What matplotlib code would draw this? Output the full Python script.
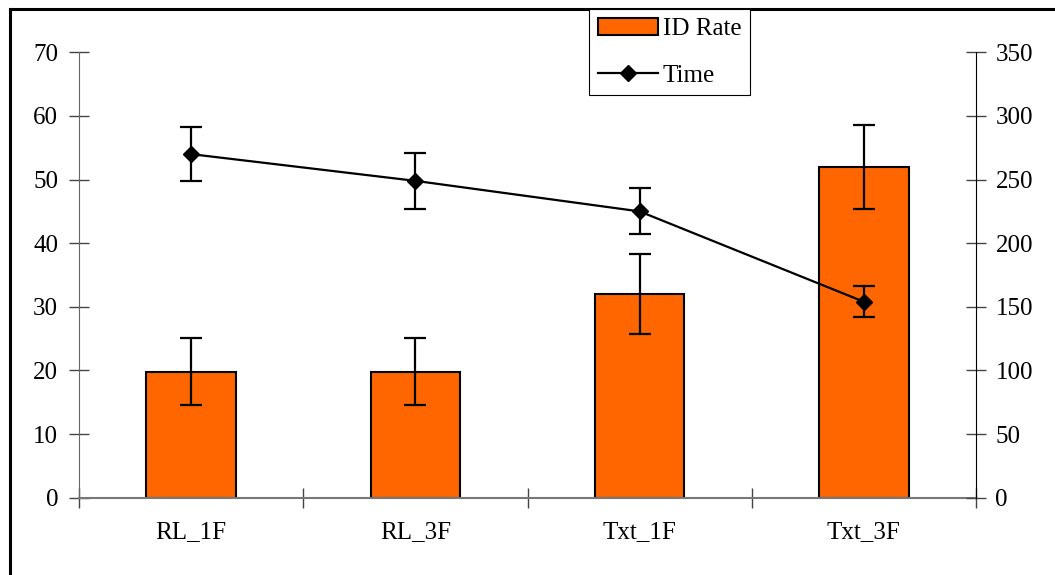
import numpy as np
import matplotlib
matplotlib.use("Agg")
import matplotlib.pyplot as plt
from matplotlib.lines import Line2D

plt.rcParams['font.family'] = ['Liberation Serif', 'DejaVu Serif']

categories = ['RL_1F', 'RL_3F', 'Txt_1F', 'Txt_3F']
id_rate = [19.8, 19.8, 32.0, 52.0]
id_rate_err = [5.3, 5.3, 6.3, 6.6]
time_vals = [270, 249, 225, 154]
time_err = [21, 22, 18, 12]

fig = plt.figure(figsize=(10.55, 5.75), dpi=100)
ax = fig.add_axes([0.0749, 0.1344, 0.8502, 0.7746])
ax2 = ax.twinx()

x = np.arange(len(categories))
bars = ax.bar(x, id_rate, width=0.4, color='#FF6600', edgecolor='black',
              linewidth=1.5, label='ID Rate', zorder=2)
ax.errorbar(x, id_rate, yerr=id_rate_err, fmt='none', ecolor='black',
            elinewidth=1.6, capsize=8, capthick=1.6, zorder=3)

ax2.errorbar(x, time_vals, yerr=time_err, fmt='none', ecolor='black',
             elinewidth=1.6, capsize=8, capthick=1.6, zorder=3)
line, = ax2.plot(x, time_vals, color='black', linewidth=1.6, marker='D',
                 markersize=8, label='Time', zorder=4)

ax.set_xlim(-0.5, 3.5)
ax.set_ylim(0, 70)
ax2.set_ylim(0, 350)
ax.set_yticks(range(0, 71, 10))
ax2.set_yticks(range(0, 351, 50))

fs = 18
ax.set_xticks(x)
ax.set_xticklabels(categories)
ax.set_xticks(np.arange(-0.5, 3.6, 1), minor=True)
ax.tick_params(axis='x', which='major', length=0, pad=17, labelsize=fs)
ax.tick_params(axis='x', which='minor', direction='inout', length=14,
               width=1, color='#444444')
ax.tick_params(axis='y', direction='inout', length=14, width=1,
               color='#444444', labelsize=fs, pad=8)
ax2.tick_params(axis='y', direction='inout', length=14, width=1,
                color='#444444', labelsize=fs, pad=7)

for a in (ax, ax2):
    a.spines['top'].set_visible(False)
ax.spines['left'].set_color('#666666')
ax.spines['bottom'].set_color('#777777')
ax.spines['bottom'].set_linewidth(1.5)
ax2.spines['left'].set_visible(False)
ax2.spines['bottom'].set_visible(False)
ax2.spines['right'].set_color('black')
ax.spines['right'].set_visible(False)

leg = fig.legend([bars, line], ['ID Rate', 'Time'], loc='upper left',
                 bbox_to_anchor=(589 / 1055, 1 - 9 / 575), borderaxespad=0,
                 fontsize=fs, fancybox=False, framealpha=1, edgecolor='black',
                 handlelength=2.4, handletextpad=0.2, borderpad=0.35,
                 labelspacing=0.95)
leg.get_frame().set_linewidth(0.8)

# рамка вокруг рисунка (видны левая и верхняя стороны)
fig.add_artist(Line2D([10 / 1055, 10 / 1055], [0, 1 - 9 / 575],
                      color='black', linewidth=2.2, transform=fig.transFigure))
fig.add_artist(Line2D([10 / 1055, 1], [1 - 9 / 575, 1 - 9 / 575],
                      color='black', linewidth=2.2, transform=fig.transFigure))

fig.savefig('out.png', dpi=100)
